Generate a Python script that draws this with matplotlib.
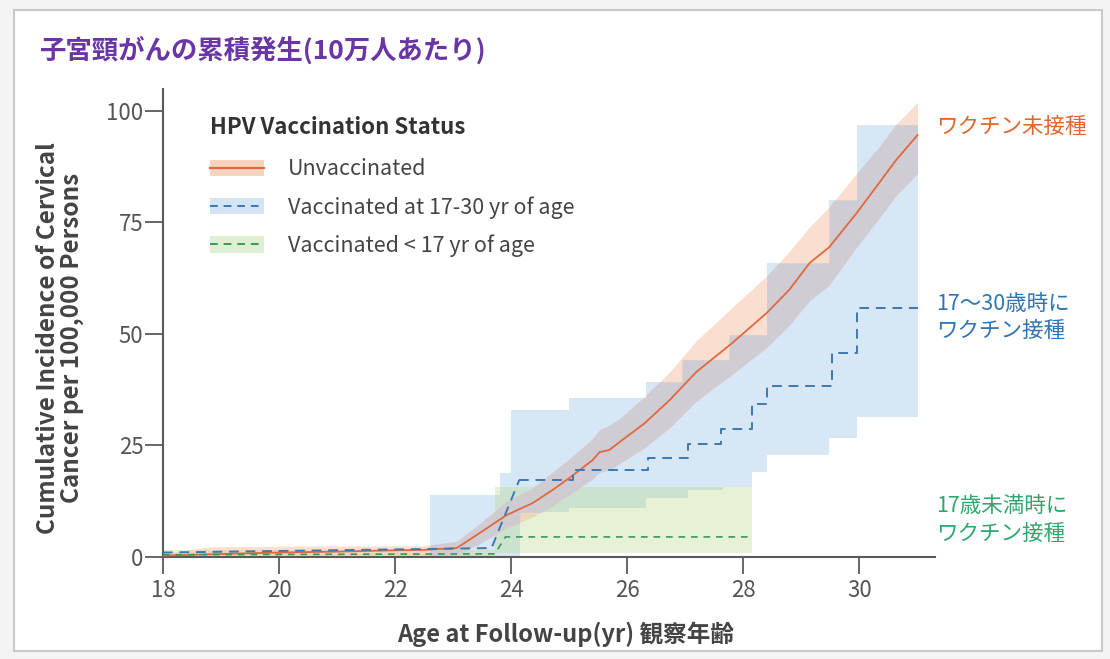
import numpy as np
import matplotlib
matplotlib.use('Agg')
import matplotlib.pyplot as plt
from matplotlib.lines import Line2D
from matplotlib.patches import Patch, Rectangle

plt.rcParams['font.family'] = ['Noto Sans CJK JP', 'DejaVu Sans']

# --- unvaccinated: cumulative incidence + 95% band ---
unvac_age = [18.0, 18.8, 20.0, 21.0, 22.0, 22.5, 23.06, 23.46, 23.92, 24.37, 24.71, 25.0, 25.4, 25.52,
             25.69, 25.87, 26.3, 26.73, 27.19, 27.81, 28.4, 28.79, 29.14, 29.48, 29.95, 30.34, 30.63, 31.0]
unvac_inc = [0.3, 0.6, 1.0, 1.2, 1.5, 1.6, 2.0, 5.4, 9.4, 12.1, 15.0, 17.7, 21.7, 23.5,
             24.0, 25.8, 30.0, 35.2, 41.5, 48.0, 54.7, 59.9, 65.9, 69.5, 77.1, 83.9, 89.0, 94.6]
unvac_lo = [0.0, 0.0, 0.2, 0.3, 0.3, 0.3, 0.5, 3.0, 6.5, 9.0, 11.5, 14.0, 17.5, 19.0,
            19.5, 21.0, 24.5, 29.0, 35.0, 41.0, 47.0, 52.0, 57.5, 61.0, 69.5, 76.0, 81.0, 86.0]
unvac_hi = [0.8, 2.3, 2.4, 2.5, 2.5, 2.5, 3.5, 7.5, 12.5, 15.5, 19.0, 22.0, 26.5, 28.5,
            29.5, 31.0, 36.0, 41.5, 48.5, 56.0, 63.0, 68.5, 74.0, 78.5, 86.0, 92.0, 97.0, 102.0]

# --- vaccinated at 17-30 yr ---
v1730_age = [18.0, 22.6, 23.66, 24.14, 25.07, 26.35, 27.05, 27.62, 28.15, 28.4, 29.53, 29.95, 31.0]
v1730_inc = [1.0, 1.8, 2.0, 17.3, 19.6, 22.2, 25.4, 28.7, 34.2, 38.3, 45.7, 55.8, 55.8]
v1730_band_age = [22.6, 23.8, 24.0, 24.15, 25.0, 26.33, 26.95, 27.05, 27.65, 27.76, 28.15, 28.4, 29.48, 29.95, 31.0]
v1730_lo = [0.0, 0.0, 0.0, 10.0, 11.0, 13.2, 13.2, 15.0, 15.7, 15.7, 19.0, 22.9, 26.7, 31.4, 31.4]
v1730_hi = [13.9, 18.8, 33.0, 33.0, 35.6, 39.2, 44.2, 44.2, 44.2, 49.8, 49.8, 65.9, 80.0, 96.9, 96.9]

# --- vaccinated < 17 yr ---
v17_age = [18.0, 23.72, 23.9, 28.15]
v17_inc = [0.5, 0.7, 4.5, 4.5]
v17_band_age = [18.0, 23.72, 28.15]
v17_lo = [0.0, 1.0, 1.0]
v17_hi = [1.5, 15.7, 15.7]

C_ORANGE = '#e2673e'
C_BLUE = '#3d78b0'
C_GREEN = '#3a9a55'


def step_at(xk, yk, xs):
    idx = np.clip(np.searchsorted(xk, xs, side='right') - 1, 0, len(yk) - 1)
    return np.asarray(yk)[idx]


fig = plt.figure(figsize=(11.1, 6.59), dpi=100, facecolor='#f4f4f4')
fig.patches.append(Rectangle((0.013, 0.012), 0.98, 0.973, transform=fig.transFigure,
                             facecolor='white', edgecolor='#c9c9c9', lw=1.5, zorder=-10))
ax = fig.add_axes([0.1468, 0.1548, 0.6955, 0.7106])
ax.patch.set_alpha(0)

# bands
ax.fill_between(v1730_band_age, v1730_lo, v1730_hi, step='post', color='#9cc3e6', alpha=0.4, lw=0)
ax.fill_between(v17_band_age, v17_lo, v17_hi, step='post', color='#b9d98a', alpha=0.35, lw=0)
ax.fill_between(unvac_age, unvac_lo, unvac_hi, color='#f6b99a', alpha=0.45, lw=0)
# where the unvaccinated band sits on top of the blue band it reads grey
xs = np.linspace(v1730_band_age[0], v1730_band_age[-1], 2000)
b_lo, b_hi = step_at(v1730_band_age, v1730_lo, xs), step_at(v1730_band_age, v1730_hi, xs)
o_lo, o_hi = np.interp(xs, unvac_age, unvac_lo), np.interp(xs, unvac_age, unvac_hi)
lo, hi = np.maximum(b_lo, o_lo), np.minimum(b_hi, o_hi)
ax.fill_between(xs, lo, hi, where=hi > lo, color='#cdccd5', alpha=0.9, lw=0)

# lines
ax.plot(unvac_age, unvac_inc, color=C_ORANGE, lw=1.3, zorder=5)
ax.plot(v1730_age[:4], v1730_inc[:4], color=C_BLUE, lw=1.4, dashes=(5, 3.5), zorder=6)
ax.step(v1730_age[3:], v1730_inc[3:], where='post', color=C_BLUE, lw=1.4, dashes=(5, 3.5), zorder=6)
ax.plot(v17_age, v17_inc, color=C_GREEN, lw=1.2, dashes=(4, 3.5), zorder=6)

ax.set_xlim(18, 31.3)
ax.set_ylim(0, 105)
ax.set_xticks([18, 20, 22, 24, 26, 28, 30])
ax.set_yticks([0, 25, 50, 75, 100])
for s in ['top', 'right']:
    ax.spines[s].set_visible(False)
for s in ['left', 'bottom']:
    ax.spines[s].set_color('#5a5a5a')
    ax.spines[s].set_linewidth(1.5)
ax.tick_params(axis='y', length=13, width=1.3, color='#5a5a5a', labelsize=16, labelcolor='#555555', pad=1)
ax.tick_params(axis='x', length=12, width=1.3, color='#5a5a5a', labelsize=16, labelcolor='#555555', pad=4)

ax.set_xlabel('Age at Follow-up(yr) 観察年齢', fontsize=17, fontweight='bold', color='#444444',
              labelpad=14, x=0.522)
ax.set_ylabel('Cumulative Incidence of Cervical\nCancer per 100,000 Persons', fontsize=17.5,
              fontweight='bold', color='#444444', labelpad=16, linespacing=1.0, y=0.468)

fig.text(0.036, 0.924, '子宮頸がんの累積発生(10万人あたり)', fontsize=19, fontweight='bold',
         color='#6a35a6', va='center', ha='left')

# legend
handles = [(Patch(facecolor='#f9d4bf', edgecolor='none'), Line2D([], [], color=C_ORANGE, lw=1.6)),
           (Patch(facecolor='#d3e5f5', edgecolor='none'), Line2D([], [], color=C_BLUE, lw=1.4, dashes=(4, 3))),
           (Patch(facecolor='#dff0d2', edgecolor='none'), Line2D([], [], color=C_GREEN, lw=1.4, dashes=(4, 3)))]
labels = ['Unvaccinated', 'Vaccinated at 17-30 yr of age', 'Vaccinated < 17 yr of age']
leg = ax.legend(handles, labels, loc='upper left', bbox_to_anchor=(0.036, 0.983), frameon=False,
                title='HPV Vaccination Status', fontsize=15.5, handlelength=2.5, handleheight=0.8,
                handletextpad=1.1, labelspacing=0.72, alignment='left')
leg.get_title().set_fontsize(16)
leg.get_title().set_fontweight('bold')
leg.get_title().set_color('#333333')
leg._legend_box.sep = 14
for t in leg.get_texts():
    t.set_color('#444444')

# right-side annotations
ax.text(31.32, 96.4, 'ワクチン未接種', color='#e0662e', fontsize=15.5, va='center', ha='left', clip_on=False)
ax.text(31.32, 53.7, '17〜30歳時に\nワクチン接種', color='#2f74b5', fontsize=15.5, va='center', ha='left',
        linespacing=1.3, clip_on=False)
ax.text(31.32, 8.3, '17歳未満時に\nワクチン接種', color='#2fa86e', fontsize=15.5, va='center', ha='left',
        linespacing=1.3, clip_on=False)

fig.savefig('out.png', dpi=100, facecolor=fig.get_facecolor())
